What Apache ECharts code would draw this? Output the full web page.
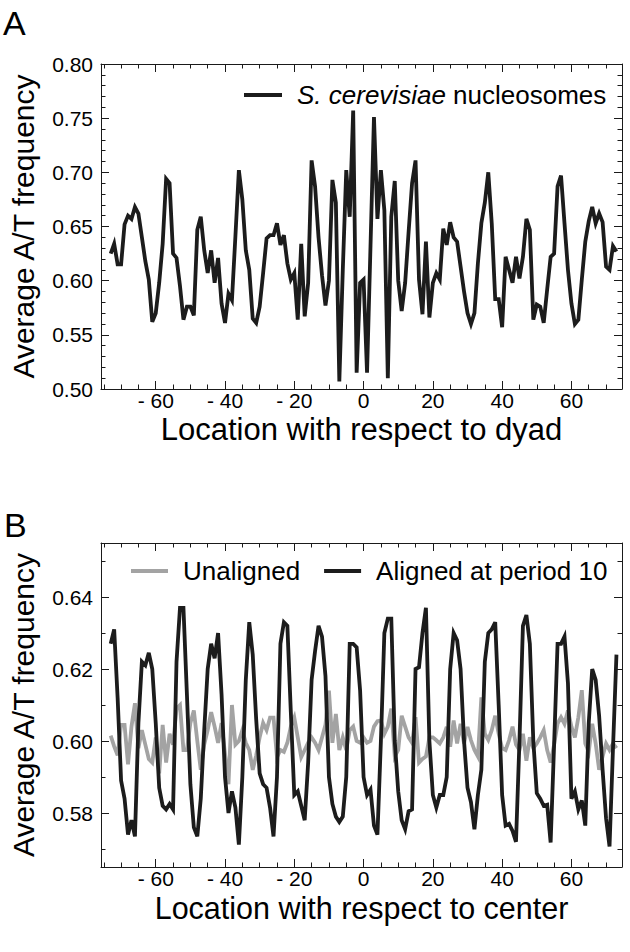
<!DOCTYPE html>
<html><head><meta charset="utf-8">
<script src="https://cdn.jsdelivr.net/npm/echarts@6/dist/echarts.min.js"></script>
<style>html,body{margin:0;padding:0;background:#fff}#c{width:630px;height:952px}</style>
</head><body><div id="c"></div>
<script>
// ---- data ----
const positions = Array.from({length: 147}, (_, i) => i - 73);   // -73 .. 73

const nucleosomeAT = [
 0.625,0.634,0.615,0.615,0.652,0.660,0.657,0.668,0.662,0.640,   // -73..-64
 0.618,0.601,0.562,0.570,0.598,0.634,0.694,0.690,0.625,0.621,   // -63..-54
 0.595,0.564,0.576,0.576,0.568,0.647,0.659,0.628,0.607,0.628,   // -53..-44
 0.598,0.621,0.579,0.561,0.588,0.582,0.641,0.702,0.675,0.628,   // -43..-34
 0.610,0.565,0.561,0.576,0.607,0.639,0.642,0.642,0.653,0.633,   // -33..-24
 0.642,0.616,0.601,0.607,0.564,0.634,0.567,0.598,0.711,0.687,   // -23..-14
 0.640,0.605,0.577,0.600,0.693,0.672,0.507,0.610,0.702,0.659,   // -13..-4
 0.757,0.515,0.598,0.601,0.515,0.632,0.751,0.657,0.702,0.665,   // -3..6
 0.510,0.659,0.692,0.600,0.572,0.598,0.645,0.690,0.711,0.601,   // 7..16
 0.569,0.636,0.566,0.598,0.607,0.601,0.648,0.633,0.654,0.640,   // 17..26
 0.636,0.613,0.590,0.570,0.560,0.570,0.616,0.653,0.672,0.700,   // 27..36
 0.653,0.583,0.583,0.557,0.622,0.610,0.598,0.622,0.602,0.622,   // 37..46
 0.657,0.647,0.564,0.578,0.576,0.561,0.592,0.622,0.625,0.687,   // 47..56
 0.697,0.653,0.610,0.579,0.560,0.564,0.601,0.636,0.655,0.668,   // 57..66
 0.653,0.662,0.654,0.613,0.610,0.632,0.627                      // 67..73
];

const unalignedAT = [
 0.6015,0.5985,0.596,0.6045,0.6045,0.5935,0.604,0.6105,0.598,0.603,
 0.599,0.595,0.594,0.601,0.591,0.6045,0.594,0.602,0.599,0.609,
 0.610,0.5975,0.5975,0.605,0.6085,0.600,0.592,0.599,0.603,0.608,
 0.604,0.5995,0.605,0.5965,0.588,0.610,0.599,0.600,0.603,0.5995,
 0.5975,0.592,0.596,0.601,0.605,0.603,0.6065,0.6065,0.5955,0.5975,
 0.597,0.5995,0.604,0.6065,0.601,0.5955,0.5975,0.5995,0.601,0.5995,
 0.5975,0.601,0.6045,0.614,0.5995,0.6075,0.5975,0.601,0.5975,0.603,
 0.604,0.600,0.5995,0.601,0.5995,0.600,0.604,0.6055,0.6057,0.602,
 0.604,0.609,0.5957,0.5975,0.607,0.604,0.601,0.5995,0.6066,0.594,
 0.595,0.5957,0.601,0.601,0.6002,0.5993,0.601,0.6039,0.5984,0.6057,
 0.5993,0.6048,0.5993,0.6039,0.6002,0.5975,0.5957,0.6121,0.602,0.6003,
 0.603,0.607,0.602,0.598,0.5975,0.6002,0.604,0.599,0.5975,0.602,
 0.5945,0.601,0.598,0.5993,0.601,0.603,0.5975,0.594,0.599,0.6048,
 0.6066,0.6048,0.6085,0.604,0.601,0.6066,0.6141,0.5993,0.597,0.6048,
 0.5993,0.592,0.5957,0.5993,0.5975,0.5993,0.598
];

const alignedAT = [
 0.627,0.631,0.612,0.589,0.584,0.574,0.578,0.5735,0.605,0.622,
 0.621,0.6245,0.620,0.605,0.587,0.582,0.581,0.5825,0.581,0.622,
 0.637,0.637,0.613,0.588,0.576,0.5735,0.584,0.603,0.620,0.627,
 0.623,0.630,0.613,0.590,0.580,0.586,0.5815,0.5712,0.590,0.617,
 0.633,0.624,0.606,0.591,0.588,0.587,0.5815,0.5735,0.590,0.627,
 0.633,0.632,0.608,0.585,0.586,0.582,0.578,0.594,0.617,0.625,
 0.632,0.629,0.618,0.590,0.5825,0.579,0.5775,0.579,0.590,0.627,
 0.627,0.626,0.614,0.590,0.585,0.5865,0.5765,0.574,0.600,0.630,
 0.634,0.634,0.600,0.586,0.578,0.5755,0.5805,0.581,0.620,0.6205,
 0.630,0.637,0.600,0.585,0.5815,0.585,0.585,0.590,0.620,0.630,
 0.628,0.620,0.600,0.587,0.583,0.5755,0.585,0.592,0.622,0.630,
 0.631,0.633,0.610,0.585,0.5765,0.577,0.575,0.572,0.600,0.632,
 0.635,0.627,0.600,0.5855,0.584,0.582,0.5823,0.5718,0.599,0.627,
 0.627,0.629,0.616,0.584,0.586,0.581,0.5835,0.5765,0.605,0.620,
 0.617,0.607,0.592,0.5785,0.5707,0.598,0.624
];

const xTickLabels = [-60, -40, -20, 0, 20, 40, 60];
const yTickLabelsA = [0.50, 0.55, 0.60, 0.65, 0.70, 0.75, 0.80];
const yTickLabelsB = [0.58, 0.60, 0.62, 0.64];

// ---- layout / style ----
const FONT = "'Liberation Sans', Arial, Helvetica, sans-serif";
const FRAME = '#1a1a1a';
const X_RANGE = [-75.8, 74.6];
const Y_RANGE_A = [0.50, 0.80];
const Y_RANGE_B = [0.565, 0.655];

function steps(a, b, s) {
  const out = [];
  for (let k = Math.ceil(a / s - 1e-9); k * s <= b + 1e-9; k++) out.push(Math.round(k * s * 1000) / 1000);
  return out;
}
const xMinor = steps(X_RANGE[0], X_RANGE[1], 5);
const yMinorA = steps(Y_RANGE_A[0], Y_RANGE_A[1], 0.01);
const yMinorB = steps(Y_RANGE_B[0], Y_RANGE_B[1], 0.01);

const MAJ = 8, MIN = 4.5;

function xAxesFor(gridIndex, title, titleSize, gap) {
  const base = {type: 'value', gridIndex, min: X_RANGE[0], max: X_RANGE[1], splitLine: {show: false}};
  const line = {show: true, onZero: false, lineStyle: {color: FRAME, width: 1}};
  const noLine = {show: false, onZero: false};
  return [
    Object.assign({}, base, {
      position: 'bottom', axisLine: line,
      axisTick: {show: true, inside: true, length: MAJ, customValues: xTickLabels, lineStyle: {color: FRAME}},
      axisLabel: {show: true, customValues: xTickLabels, margin: 1, color: '#000', fontSize: 21, fontFamily: FONT,
        formatter: v => v < 0 ? '- ' + Math.abs(v) : String(v)},
      name: title, nameLocation: 'middle', nameGap: gap,
      nameTextStyle: {fontSize: titleSize, fontFamily: FONT, color: '#000'}
    }),
    Object.assign({}, base, {
      position: 'bottom', axisLine: noLine,
      axisTick: {show: true, inside: true, length: MIN, customValues: xMinor, lineStyle: {color: FRAME}},
      axisLabel: {show: false}
    }),
    Object.assign({}, base, {
      position: 'top', axisLine: line,
      axisTick: {show: true, inside: true, length: MAJ, customValues: xTickLabels, lineStyle: {color: FRAME}},
      axisLabel: {show: false}
    }),
    Object.assign({}, base, {
      position: 'top', axisLine: noLine,
      axisTick: {show: true, inside: true, length: MIN, customValues: xMinor, lineStyle: {color: FRAME}},
      axisLabel: {show: false}
    })
  ];
}

function yAxesFor(gridIndex, range, majors, minors) {
  const base = {type: 'value', gridIndex, min: range[0], max: range[1], splitLine: {show: false}};
  const line = {show: true, onZero: false, lineStyle: {color: FRAME, width: 1}};
  const noLine = {show: false, onZero: false};
  return [
    Object.assign({}, base, {
      position: 'left', axisLine: line,
      axisTick: {show: true, inside: true, length: MAJ, customValues: majors, lineStyle: {color: FRAME}},
      axisLabel: {show: true, customValues: majors, margin: 8, color: '#000', fontSize: 21, fontFamily: FONT,
        formatter: v => Number(v).toFixed(2)},
      name: 'Average A/T frequency', nameLocation: 'middle', nameRotate: 90, nameGap: 63,
      nameTextStyle: {fontSize: 30, fontFamily: FONT, color: '#000'}
    }),
    Object.assign({}, base, {
      position: 'left', axisLine: noLine,
      axisTick: {show: true, inside: true, length: MIN, customValues: minors, lineStyle: {color: FRAME}},
      axisLabel: {show: false}
    }),
    Object.assign({}, base, {
      position: 'right', axisLine: line,
      axisTick: {show: true, inside: true, length: MAJ, customValues: majors, lineStyle: {color: FRAME}},
      axisLabel: {show: false}
    }),
    Object.assign({}, base, {
      position: 'right', axisLine: noLine,
      axisTick: {show: true, inside: true, length: MIN, customValues: minors, lineStyle: {color: FRAME}},
      axisLabel: {show: false}
    })
  ];
}

function pairs(vals) { return positions.map((x, i) => [x, vals[i]]); }

const BLACK = '#1c1c1c', GRAY = '#a3a3a3';
function lineSeries(name, vals, xi, yi, color, z) {
  return {
    name, type: 'line', xAxisIndex: xi, yAxisIndex: yi, data: pairs(vals),
    symbol: 'none', showSymbol: false, z,
    lineStyle: {color, width: 3.8, join: 'miter'}, itemStyle: {color},
    emphasis: {disabled: true}, animation: false
  };
}

const legendText = {fontSize: 26, fontFamily: FONT, color: '#000', padding: [0, 0, 0, 10]};

const option = {
  backgroundColor: '#fff',
  animation: false,
  grid: [
    {left: 101, top: 64, width: 521, height: 325, outerBoundsMode: 'none'},
    {left: 101, top: 543, width: 521, height: 324, outerBoundsMode: 'none'}
  ],
  xAxis: xAxesFor(0, 'Location with respect to dyad', 31, 25)
    .concat(xAxesFor(1, 'Location with respect to center', 30.5, 25)),
  yAxis: yAxesFor(0, Y_RANGE_A, yTickLabelsA, yMinorA).concat(yAxesFor(1, Y_RANGE_B, yTickLabelsB, yMinorB)),
  legend: [
    {
      data: ['S. cerevisiae nucleosomes'], left: 244, top: 82, padding: 0,
      icon: 'rect', itemWidth: 38, itemHeight: 4,
      selectedMode: false, orient: 'horizontal',
      formatter: () => '{i|S. cerevisiae} nucleosomes',
      textStyle: Object.assign({}, legendText, {rich: {i: {fontStyle: 'italic', fontSize: 26, fontFamily: FONT, color: '#000'}}})
    },
    {
      data: ['Unaligned', 'Aligned at period 10'], left: 131, top: 558, padding: 0,
      icon: 'rect', itemWidth: 37, itemHeight: 4,
      itemGap: 24, selectedMode: false, textStyle: legendText
    }
  ],
  graphic: [
    {type: 'text', left: 3, top: 6, style: {text: 'A', font: '34px ' + FONT, fill: '#000'}},
    {type: 'text', left: 4, top: 508, style: {text: 'B', font: '34px ' + FONT, fill: '#000'}}
  ],
  series: [
    lineSeries('S. cerevisiae nucleosomes', nucleosomeAT, 0, 0, BLACK, 3),
    lineSeries('Unaligned', unalignedAT, 4, 4, GRAY, 2),
    lineSeries('Aligned at period 10', alignedAT, 4, 4, BLACK, 3)
  ]
};

const chart = echarts.init(document.getElementById('c'), null, {renderer: 'svg', width: 630, height: 952});
chart.setOption(option);
</script>
</body></html>
